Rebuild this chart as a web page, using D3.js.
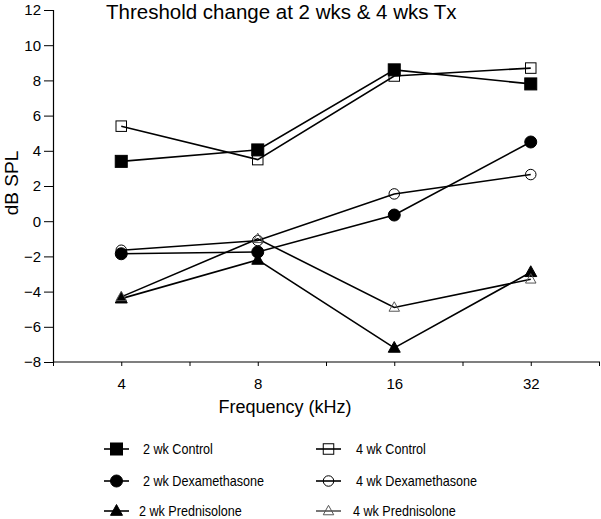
<!DOCTYPE html>
<html><head><meta charset="utf-8">
<script src="https://cdn.jsdelivr.net/npm/d3@7"></script>
<style>body{margin:0;background:#fff}svg{display:block}text{font-family:"Liberation Sans",Arial,sans-serif;fill:#000}</style>
</head><body><svg id="c" width="601" height="519"></svg>
<script>
const frequencies = [4, 8, 16, 32];
const yTicks = [-8, -6, -4, -2, 0, 2, 4, 6, 8, 10, 12];
const seriesNames = ["2 wk Control", "4 wk Control", "2 wk Dexamethasone", "4 wk Dexamethasone", "2 wk Prednisolone", "4 wk Prednisolone"];
const control2 = [3.4, 4.05, 8.6, 7.8];
const control4 = [5.4, 3.5, 8.25, 8.7];
const dex2 = [-1.85, -1.75, 0.35, 4.5];
const dex4 = [-1.65, -1.1, 1.55, 2.65];
const pred2 = [-4.4, -2.2, -7.2, -2.9];
const pred4 = [-4.3, -1.0, -4.9, -3.3];

const series = [
  {name: seriesNames[0], values: control2, shape: "square", filled: true},
  {name: seriesNames[1], values: control4, shape: "square", filled: false},
  {name: seriesNames[2], values: dex2, shape: "circle", filled: true},
  {name: seriesNames[3], values: dex4, shape: "circle", filled: false},
  {name: seriesNames[4], values: pred2, shape: "triangle", filled: true},
  {name: seriesNames[5], values: pred4, shape: "triangle", filled: false}
];

const svg = d3.select("#c");
const x = d3.scaleLog().base(2).domain([Math.pow(2,1.5), Math.pow(2,5.5)]).range([53, 599]);
const y = d3.scaleLinear().domain([-8, 12]).range([362, 10]);

// axes
const yAxis = svg.append("g").attr("transform","translate(53,0)")
  .call(d3.axisLeft(y).tickValues(yTicks).tickSize(9).tickPadding(3).tickFormat(d3.format("d")));
yAxis.select(".domain").attr("stroke","#000").attr("stroke-width",1.2);
yAxis.selectAll(".tick line").attr("stroke","#000");
yAxis.selectAll(".tick text").style("font-size","15px");

const minor = [1.5,2,2.5,3,3.5,4,4.5,5,5.5].map(e=>Math.pow(2,e));
const xAxis = svg.append("g").attr("transform","translate(0,362)")
  .call(d3.axisBottom(x).tickValues(minor).tickSize(4).tickSizeOuter(0).tickPadding(12)
    .tickFormat(d => frequencies.includes(Math.round(d*1000)/1000) ? d3.format("d")(d) : ""));
xAxis.select(".domain").attr("stroke","#000").attr("stroke-width",1.2).attr("d","M53,0H600");
xAxis.selectAll(".tick line").attr("stroke","#000");
xAxis.selectAll(".tick text").style("font-size","15px");

svg.append("text").attr("x",285).attr("y",413).attr("text-anchor","middle").style("font-size","18px").text("Frequency (kHz)");
svg.append("text").attr("transform","translate(18,183) rotate(-90)").attr("text-anchor","middle").style("font-size","19px").text("dB SPL");
svg.append("text").attr("x",106).attr("y",19).style("font-size","20.5px").text("Threshold change at 2 wks & 4 wks Tx");

function marker(g, shape, filled, cx, cy){
  const s = filled ? 12 : 10.5;
  let el;
  if(shape==="square") el = g.append("rect").attr("x",cx-s/2).attr("y",cy-s/2).attr("width",s).attr("height",s);
  else if(shape==="circle") el = g.append("circle").attr("cx",cx).attr("cy",cy).attr("r",s/2);
  else {
    const h = s*0.9;
    el = g.append("path").attr("d",`M${cx},${cy-h*0.6}L${cx+s/2},${cy+h*0.4}L${cx-s/2},${cy+h*0.4}Z`);
  }
  el.attr("fill", filled ? "#000" : "none").attr("stroke", filled ? "#000" : (shape==="triangle"?"#555":"#000")).attr("stroke-width", 1);
}

const line = d3.line().x((d,i)=>x(frequencies[i])).y(d=>y(d));
series.forEach(s=>{
  const g = svg.append("g");
  g.append("path").attr("d", line(s.values)).attr("fill","none").attr("stroke","#000").attr("stroke-width",1.6);
  s.values.forEach((v,i)=>marker(g, s.shape, s.filled, x(frequencies[i]), y(v)));
});

// legend
const legRows = [449, 481, 511];
series.forEach((s,i)=>{
  const col = i%2, row = Math.floor(i/2);
  const lx = col===0 ? 104 : 316;
  const ly = legRows[row];
  const g = svg.append("g");
  g.append("line").attr("x1",lx).attr("x2",lx+25).attr("y1",ly).attr("y2",ly).attr("stroke",s.filled||s.shape!=="triangle"?"#000":"#555").attr("stroke-width",1.6);
  marker(g, s.shape, s.filled, lx+12.5, ly);
  const tx = col===0 ? (s.shape==="triangle"?139:143) : (s.shape==="triangle"?353:356);
  g.append("text").attr("transform",`translate(${tx},${ly+5}) scale(0.9,1)`).style("font-size","14px").text(s.name);
});
</script></body></html>
